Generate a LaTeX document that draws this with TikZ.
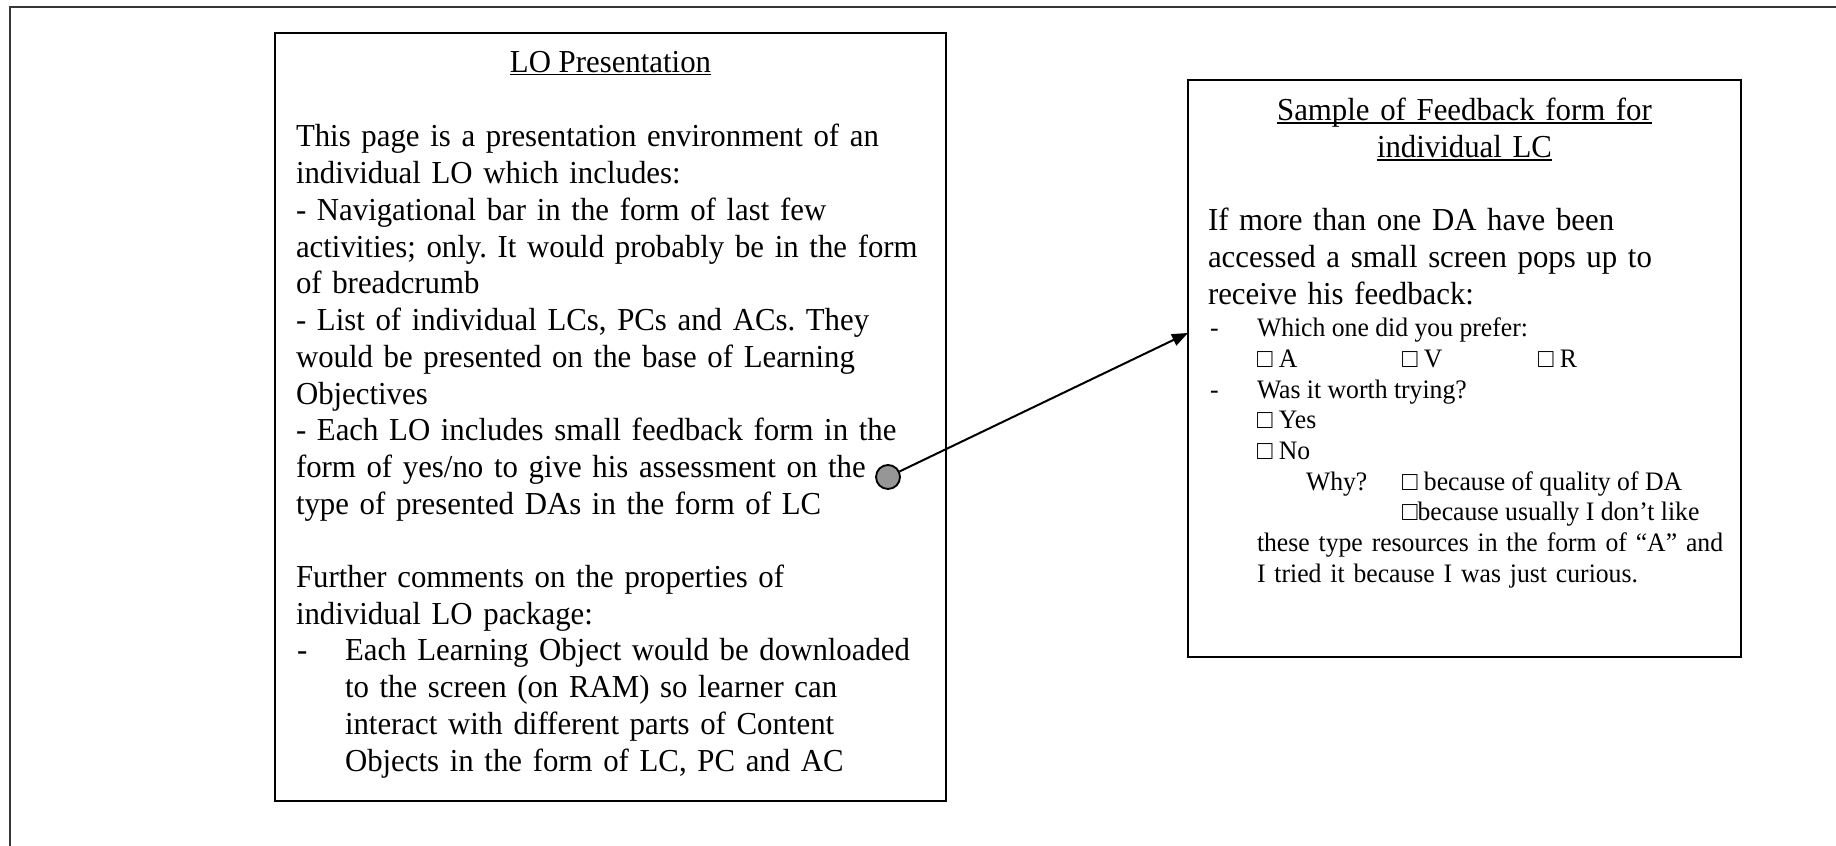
\documentclass[tikz,border=0pt]{standalone}
\usepackage{fontspec}
\setmainfont{Liberation Serif}[FakeStretch=0.963]
\usetikzlibrary{arrows.meta}
\frenchspacing
\newsavebox{\ulsavebox}
\newcommand{\myul}[1]{\leavevmode\sbox{\ulsavebox}{#1}\rlap{\rule[-1.1pt]{\wd\ulsavebox}{0.6pt}}\usebox{\ulsavebox}}
\tikzset{
  frame/.style={draw, line width=0.75pt, inner sep=0pt, outer sep=0pt},
  outerframe/.style={draw={rgb,255:red,55;green,55;blue,55}, line width=1pt},
  big/.style={inner sep=0pt, outer sep=0pt, font=\fontsize{12}{13.78}\selectfont\frenchspacing, align=left},
  small/.style={inner sep=0pt, outer sep=0pt, font=\fontsize{10}{11.5}\selectfont\frenchspacing, align=left},
  dot/.style={circle, draw, line width=0.7pt, fill={rgb,255:red,150;green,150;blue,150}, minimum size=9pt, inner sep=0pt},
  link/.style={line width=0.75pt, -{Triangle[length=6pt,width=4.6pt]}}
}
\begin{document}
\begin{tikzpicture}[x=0.375pt, y=-0.375pt]
\useasboundingbox (0,0) rectangle (1836,846);
% outer frame (only its left and top edges lie inside the picture)
\draw[outerframe] (10,846) -- (10,7) -- (1836,7);

% left box
\node[frame, minimum width=251.6pt, minimum height=288pt] (lo) at (610.5,417) {};
\node[big, anchor=base] (lotitle) at (610.5,72.5) {\myul{LO Presentation}};
\node[big, anchor=base west, text width=250pt] (lobody) at (296,147) {This page is a presentation environment of an\\
individual LO which includes:\\
- Navigational bar in the form of last few\\
activities; only. It would probably be in the form\\
of breadcrumb\\
- List of individual LCs, PCs and ACs. They\\
would be presented on the base of Learning\\
Objectives\\
- Each LO includes small feedback form in the\\
form of yes/no to give his assessment on the\\
type of presented DAs in the form of LC};
\node[big, anchor=base west, text width=250pt] (lofurther) at (296,587.4) {Further comments on the properties of\\
individual LO package:};
\node[big, anchor=base west] (lodash) at (297,660.8) {-};
\node[big, anchor=base west, text width=230pt] (lolist) at (345,660.8) {Each Learning Object would be downloaded\\
to the screen (on RAM) so learner can\\
interact with different parts of Content\\
Objects in the form of LC, PC and AC};
\node[dot] (dot) at (888,477) {};

% right box
\node[frame, minimum width=207.4pt, minimum height=216.4pt] (fb) at (1464.5,368.5) {};
\node[big, anchor=base, text width=200pt, align=center] (fbtitle) at (1464.5,121) {\myul{Sample of Feedback form for}\\
\myul{individual LC}};
\node[big, anchor=base west, text width=200pt] (fbintro) at (1208,231) {If more than one DA have been\\
accessed a small screen pops up to\\
receive his feedback:};
\node[small, anchor=base west] (dash1) at (1210,337) {-};
\node[small, anchor=base west] (q1) at (1257,337) {Which one did you prefer:};
\node[small, anchor=base west] (optA) at (1257,367.6) {□ A};
\node[small, anchor=base west] (optV) at (1402,367.6) {□ V};
\node[small, anchor=base west] (optR) at (1538,367.6) {□ R};
\node[small, anchor=base west] (dash2) at (1210,398.3) {-};
\node[small, anchor=base west] (q2) at (1257,398.3) {Was it worth trying?};
\node[small, anchor=base west] (optYes) at (1257,429) {□ Yes};
\node[small, anchor=base west] (optNo) at (1257,459.6) {□ No};
\node[small, anchor=base west] (why) at (1306,490.3) {Why?};
\node[small, anchor=base west] (why1) at (1402,490.3) {□ because of quality of DA};
\node[small, anchor=base west] (why2) at (1402,521) {□because usually I don’t like};
\node[small, anchor=base west, text width=190pt] (why3) at (1257,551.6) {these type resources in the form of “A” and\\
I tried it because I was just curious.};

% connector
\coordinate (tip) at (1188,333);
\draw[link] (dot) -- (tip);
\end{tikzpicture}
\end{document}
